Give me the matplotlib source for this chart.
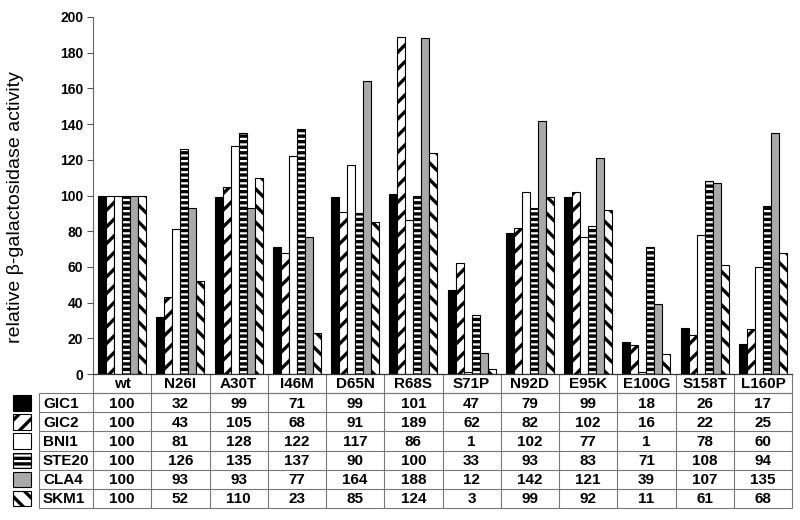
import matplotlib
matplotlib.use('Agg')
import matplotlib.pyplot as plt
from matplotlib.patches import Rectangle
import numpy as np

plt.rcParams['font.family'] = ['Liberation Sans', 'DejaVu Sans']
plt.rcParams['hatch.linewidth'] = 2.4
plt.rcParams['hatch.color'] = 'black'

# mutants (table columns)
mutants = ['wt', 'N26I', 'A30T', 'I46M', 'D65N', 'R68S', 'S71P', 'N92D',
           'E95K', 'E100G', 'S158T', 'L160P']

# relative activity for each interaction partner
gic1 = [100, 32, 99, 71, 99, 101, 47, 79, 99, 18, 26, 17]
gic2 = [100, 43, 105, 68, 91, 189, 62, 82, 102, 16, 22, 25]
bni1 = [100, 81, 128, 122, 117, 86, 1, 102, 77, 1, 78, 60]
ste20 = [100, 126, 135, 137, 90, 100, 33, 93, 83, 71, 108, 94]
cla4 = [100, 93, 93, 77, 164, 188, 12, 142, 121, 39, 107, 135]
skm1 = [100, 52, 110, 23, 85, 124, 3, 99, 92, 11, 61, 68]

names = ['GIC1', 'GIC2', 'BNI1', 'STE20', 'CLA4', 'SKM1']
series = [gic1, gic2, bni1, ste20, cla4, skm1]
faces = ['black', 'white', 'white', 'white', '#a9a9a9', 'white']
hatches = [None, '//', None, '---', None, '\\\\']

fig = plt.figure(figsize=(8, 5.2), dpi=100)

# bar axes
L, R, T, B = 93, 792, 17, 374
ax = fig.add_axes([L / 800, 1 - B / 520, (R - L) / 800, (B - T) / 520])

x = np.arange(len(mutants))
w = 0.137
for j, vals in enumerate(series):
    ax.bar(x + (j - 2.5) * w, vals, width=w, color=faces[j], hatch=hatches[j],
           edgecolor='black', linewidth=0.8, zorder=2)

ax.set_xlim(-0.5, len(mutants) - 0.5)
ax.set_ylim(0, 200)
ax.set_yticks(np.arange(0, 201, 20))
ax.set_xticks([])
for lab in ax.get_yticklabels():
    lab.set_fontweight('bold')
ax.tick_params(axis='y', labelsize=10, length=4, width=0.8, color='#555555', pad=3)
ax.spines['top'].set_visible(False)
ax.spines['right'].set_visible(False)
ax.spines['left'].set_color('#666666')
ax.spines['left'].set_linewidth(0.8)
ax.spines['bottom'].set_color('#333333')
ax.spines['bottom'].set_linewidth(0.9)
fig.text(16 / 800, 1 - 207 / 520, 'relative β-galactosidase activity',
         rotation=90, ha='center', va='center', fontsize=14)

# data table below the chart, drawn in pixel coordinates
tab = fig.add_axes([0, 0, 1, 1], zorder=-1)
tab.set_xlim(0, 800)
tab.set_ylim(520, 0)
tab.axis('off')

col_x = L + np.arange(len(mutants) + 1) * (R - L) / len(mutants)
head_top, head_bot = B, 393
row_h = 19.17
rows_y = head_bot + np.arange(len(names) + 1) * row_h
lab_left = 39
lc = '#777777'
lw = 0.8

# header row
tab.hlines(head_bot, L, R, color=lc, lw=lw)
tab.vlines(col_x, head_top, rows_y[-1], color=lc, lw=lw)
for i, m in enumerate(mutants):
    tab.text((col_x[i] + col_x[i + 1]) / 2, (head_top + head_bot) / 2 + 1, m,
             ha='center', va='center', fontsize=11, fontweight='bold')

# data rows
tab.hlines(rows_y, lab_left, R, color=lc, lw=lw)
tab.vlines(lab_left, rows_y[0], rows_y[-1], color=lc, lw=lw)
for r, (nm, vals) in enumerate(zip(names, series)):
    yc = (rows_y[r] + rows_y[r + 1]) / 2 + 1
    tab.text(lab_left + 4, yc, nm, ha='left', va='center', fontsize=11,
             fontweight='bold')
    for i, v in enumerate(vals):
        tab.text((col_x[i] + col_x[i + 1]) / 2, yc, str(v), ha='center',
                 va='center', fontsize=11, fontweight='bold')
    # legend swatch
    tab.add_patch(Rectangle((13, yc - 8.5), 18, 15.5, facecolor=faces[r],
                            hatch=hatches[r], edgecolor='black', linewidth=0.8))

fig.savefig('out.png', dpi=100)
